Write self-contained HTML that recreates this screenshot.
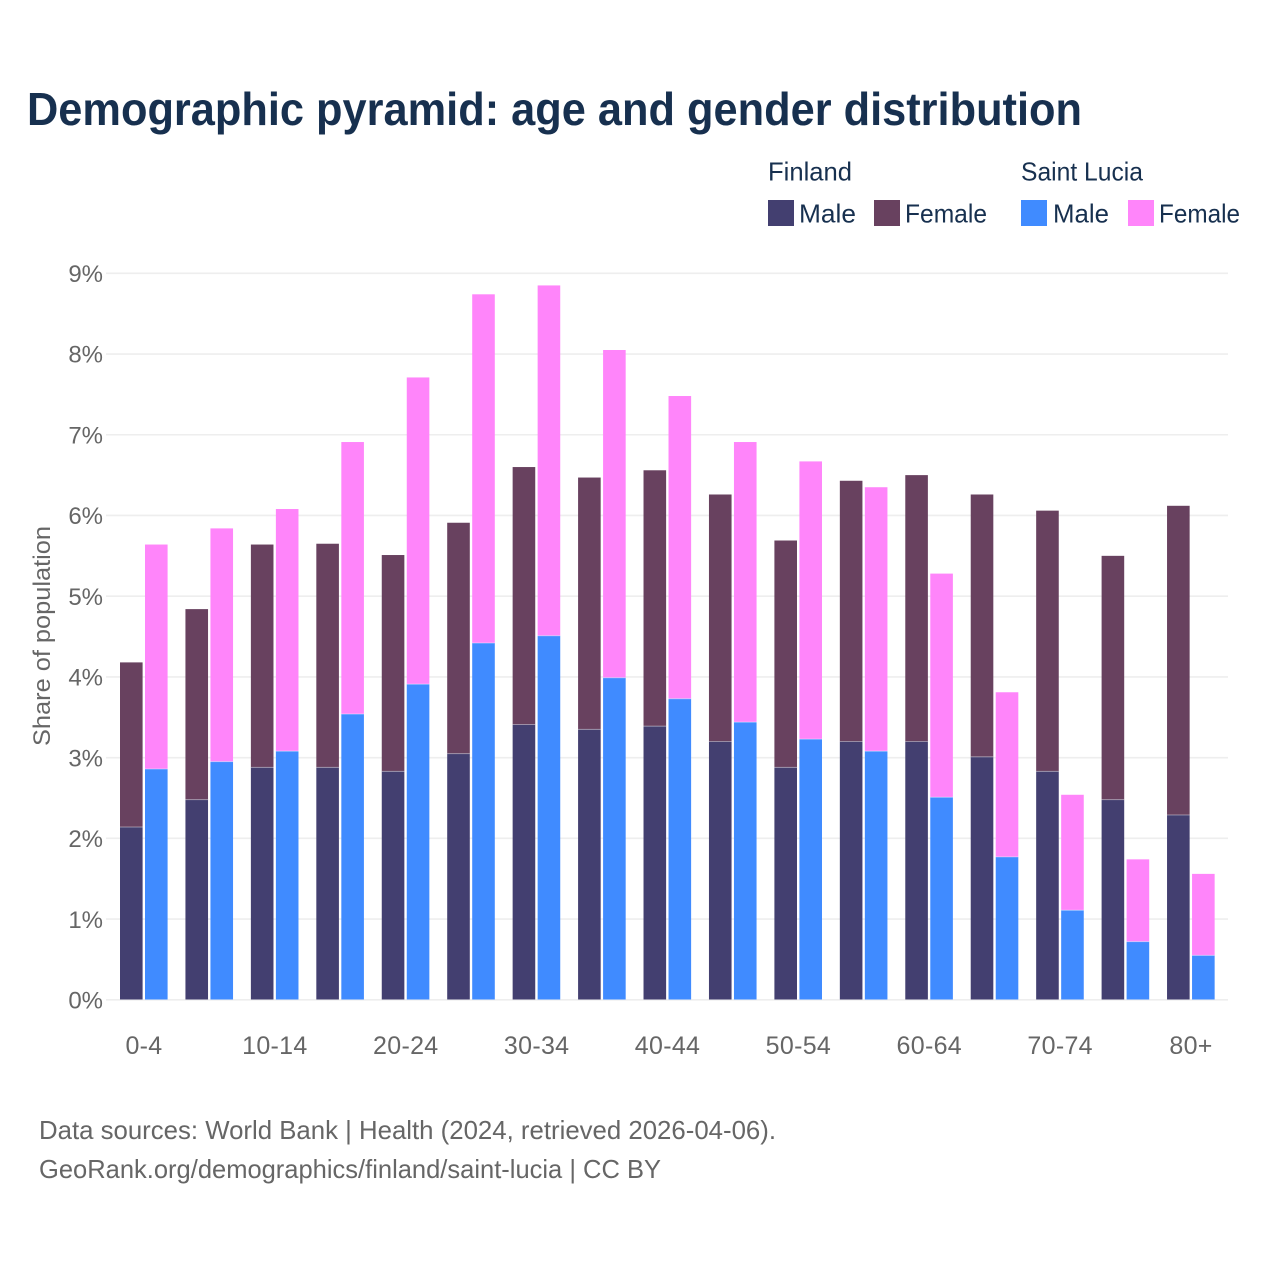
<!DOCTYPE html>
<html lang="en">
<head>
<meta charset="utf-8">
<title>Demographic pyramid: age and gender distribution</title>
<style>
  html, body { margin: 0; padding: 0; background: #ffffff; }
  svg { display: block; font-family: "Liberation Sans", sans-serif; }
</style>
</head>
<body>
<svg id="chart" xmlns="http://www.w3.org/2000/svg" width="1280" height="1280" viewBox="0 0 1280 1280">
  <rect width="1280" height="1280" fill="#ffffff"/>
  <text x="27" y="125" font-size="46" font-weight="700" fill="#17304f" textLength="1055" lengthAdjust="spacingAndGlyphs">Demographic pyramid: age and gender distribution</text>

  <g font-size="26" fill="#17304f">
    <text x="768" y="180.5" textLength="84" lengthAdjust="spacingAndGlyphs">Finland</text>
    <text x="1021" y="180.5" textLength="122" lengthAdjust="spacingAndGlyphs">Saint Lucia</text>
    <rect x="768" y="200" width="26" height="26" fill="#433f70"/>
    <text x="799" y="222.5" textLength="57" lengthAdjust="spacingAndGlyphs">Male</text>
    <rect x="874" y="200" width="26" height="26" fill="#68415f"/>
    <text x="905" y="222.5" textLength="82" lengthAdjust="spacingAndGlyphs">Female</text>
    <rect x="1021" y="200" width="26" height="26" fill="#408bff"/>
    <text x="1053" y="222.5" textLength="56" lengthAdjust="spacingAndGlyphs">Male</text>
    <rect x="1128" y="200" width="26" height="26" fill="#ff85fa"/>
    <text x="1159" y="222.5" textLength="81" lengthAdjust="spacingAndGlyphs">Female</text>
  </g>

  <g id="grid"></g>
  <g id="yticks"></g>
  <g id="bars"></g>
  <g id="xticks"></g>

  <text transform="translate(50,746) rotate(-90)" font-size="24" fill="#666666" textLength="220" lengthAdjust="spacingAndGlyphs">Share of population</text>

  <text x="39" y="1139" font-size="26" fill="#666666" textLength="737" lengthAdjust="spacingAndGlyphs">Data sources: World Bank | Health (2024, retrieved 2026-04-06).</text>
  <text x="39" y="1178" font-size="26" fill="#666666" textLength="622" lengthAdjust="spacingAndGlyphs">GeoRank.org/demographics/finland/saint-lucia | CC BY</text>
</svg>
<script>
const ageGroups = ["0-4","5-9","10-14","15-19","20-24","25-29","30-34","35-39","40-44","45-49","50-54","55-59","60-64","65-69","70-74","75-79","80+"];
const finlandMale = [2.14,2.48,2.88,2.88,2.83,3.05,3.41,3.35,3.39,3.20,2.88,3.20,3.20,3.01,2.83,2.48,2.29];
const finlandFemale = [2.04,2.36,2.76,2.77,2.68,2.86,3.19,3.12,3.17,3.06,2.81,3.23,3.30,3.25,3.23,3.02,3.83];
const saintLuciaMale = [2.86,2.95,3.08,3.54,3.91,4.42,4.51,3.99,3.73,3.44,3.23,3.08,2.51,1.77,1.11,0.72,0.55];
const saintLuciaFemale = [2.78,2.89,3.00,3.37,3.80,4.32,4.34,4.06,3.75,3.47,3.44,3.27,2.77,2.04,1.43,1.02,1.01];
const yTickValues = [0,1,2,3,4,5,6,7,8,9];

const NS = "http://www.w3.org/2000/svg";
const BAR_WIDTH = 22.6;
function yScale(v) { return 999.8 - v * 80.72; }
function xCenter(i) { return 144 + i * 65.44; }
function make(tag, attrs, parent) {
  const el = document.createElementNS(NS, tag);
  for (const k in attrs) el.setAttribute(k, attrs[k]);
  parent.appendChild(el);
  return el;
}

const grid = document.getElementById("grid");
const yticks = document.getElementById("yticks");
yTickValues.forEach(function (v) {
  const line = make("line", { x1: 106, x2: 1228, y1: yScale(v), y2: yScale(v), stroke: "#eeeeee", "stroke-width": 1.6 }, grid);
  
  
  const label = make("text", { x: 103, y: yScale(v) + 8.7, "text-anchor": "end", "font-size": 24, fill: "#666666" }, yticks);
  label.textContent = v + "%";
  
  
});

const barsGroup = document.getElementById("bars");
function drawStack(male, female, offset, maleColor, femaleColor, country) {
  ageGroups.forEach(function (age, i) {
    const x = xCenter(i) + offset;
    const maleTop = yScale(male[i]);
    const totalTop = yScale(male[i] + female[i]);
    const f = make("rect", { x: x, y: totalTop, width: BAR_WIDTH, height: maleTop - totalTop, fill: femaleColor }, barsGroup);
    
    
    const m = make("rect", { x: x, y: maleTop, width: BAR_WIDTH, height: yScale(0) - 0.3 - maleTop, fill: maleColor }, barsGroup);
    
    
    const sep = make("line", { x1: x, x2: x + BAR_WIDTH, y1: maleTop, y2: maleTop, stroke: "#ffffff", "stroke-opacity": 0.4, "stroke-width": 1 }, barsGroup);
    
    
  });
}
drawStack(finlandMale, finlandFemale, -24, "#433f70", "#68415f", "finland");
drawStack(saintLuciaMale, saintLuciaFemale, 1, "#408bff", "#ff85fa", "saint-lucia");

const xticks = document.getElementById("xticks");
ageGroups.forEach(function (age, i) {
  if (i % 2 !== 0) return;
  const label = make("text", { x: xCenter(i), y: 1054, "text-anchor": "middle", "font-size": 25, "letter-spacing": 0.3, fill: "#666666" }, xticks);
  label.textContent = age;
  
  
});
</script>
</body>
</html>
